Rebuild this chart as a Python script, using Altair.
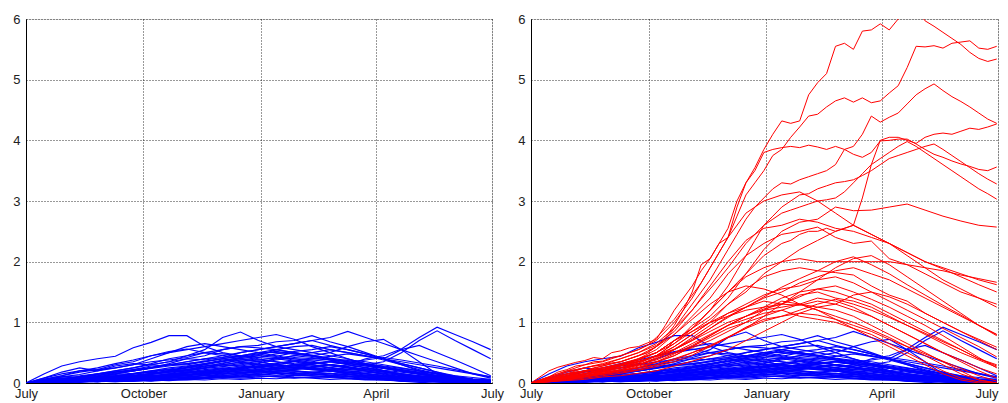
import altair as alt
import pandas as pd

# sample days (days since 1 July)
days = [0, 14, 28, 42, 56, 70, 84, 98, 112, 126, 140, 154, 168, 182,
        196, 210, 224, 238, 252, 266, 280, 294, 308, 322, 336, 350, 364]
days_weekly = [0, 7, 14, 21, 28, 35, 42, 49, 56, 63, 70, 77, 84, 91, 98, 105,
               112, 119, 126, 133, 140, 147, 154, 161, 168, 175, 182, 189, 196,
               203, 210, 217, 224, 231, 238, 245, 252, 259, 266, 273, 280, 287,
               294, 301, 308, 315, 322, 329, 336, 343, 350, 357, 364]

tick_days = [0, 92, 184, 274, 365]
tick_labels = ["July", "October", "January", "April", "July"]
y_ticks = [0, 1, 2, 3, 4, 5, 6]

blue_series = [
    [0,0.15,0.28,0.35,0.4,0.44,0.58,0.67,0.78,0.78,0.6,0.5,0.45,0.4,0.35,0.3,0.25,0.2,0.15,0.1,0.08,0.05,0.03,0.02,0,0,0],
    [0,0.02,0.05,0.1,0.15,0.2,0.25,0.32,0.4,0.45,0.55,0.75,0.84,0.7,0.6,0.55,0.5,0.45,0.4,0.32,0.25,0.2,0.15,0.1,0.05,0.03,0.02],
    [0,0.03,0.06,0.1,0.12,0.18,0.22,0.28,0.3,0.35,0.4,0.45,0.5,0.55,0.6,0.65,0.7,0.75,0.85,0.75,0.65,0.55,0.45,0.35,0.25,0.15,0.08],
    [0,0.02,0.04,0.08,0.1,0.15,0.2,0.25,0.3,0.3,0.35,0.4,0.35,0.3,0.3,0.35,0.3,0.25,0.3,0.4,0.45,0.56,0.75,0.92,0.8,0.68,0.55],
    [0,0.01,0.03,0.05,0.08,0.1,0.12,0.15,0.2,0.22,0.25,0.3,0.28,0.25,0.3,0.28,0.25,0.22,0.25,0.3,0.35,0.5,0.7,0.86,0.7,0.55,0.4],
    [0,0.04,0.08,0.1,0.14,0.18,0.22,0.26,0.3,0.35,0.4,0.42,0.45,0.5,0.5,0.48,0.45,0.5,0.6,0.68,0.72,0.55,0.35,0.15,0.05,0.02,0],
    [0,0.05,0.1,0.14,0.2,0.25,0.3,0.4,0.5,0.55,0.6,0.65,0.7,0.75,0.8,0.72,0.6,0.5,0.4,0.3,0.2,0.12,0.05,0.02,0,0,0],
    [0,0.03,0.05,0.1,0.12,0.15,0.2,0.25,0.32,0.4,0.45,0.55,0.6,0.62,0.68,0.7,0.78,0.68,0.6,0.5,0.4,0.3,0.2,0.1,0.04,0.01,0],
    [0,0.06,0.12,0.18,0.22,0.3,0.35,0.45,0.5,0.6,0.65,0.6,0.55,0.5,0.45,0.4,0.36,0.3,0.25,0.2,0.14,0.08,0.04,0.02,0,0,0],
    [0,0.02,0.03,0.05,0.06,0.1,0.12,0.15,0.2,0.25,0.3,0.35,0.4,0.45,0.55,0.6,0.62,0.55,0.5,0.45,0.4,0.55,0.62,0.5,0.38,0.25,0.12],
    [0,0.04,0.07,0.1,0.15,0.18,0.2,0.25,0.3,0.32,0.35,0.4,0.45,0.42,0.4,0.45,0.5,0.55,0.5,0.45,0.38,0.3,0.22,0.15,0.08,0.03,0],
    [0,0.08,0.15,0.2,0.22,0.25,0.3,0.35,0.38,0.42,0.5,0.55,0.6,0.58,0.55,0.5,0.45,0.4,0.35,0.3,0.25,0.2,0.15,0.1,0.05,0.02,0],
    [0,0.02,0.05,0.06,0.08,0.1,0.12,0.14,0.18,0.22,0.28,0.32,0.38,0.42,0.48,0.52,0.55,0.6,0.55,0.48,0.4,0.32,0.25,0.18,0.1,0.05,0.02],
    [0,0.05,0.1,0.12,0.15,0.2,0.25,0.3,0.35,0.45,0.5,0.48,0.45,0.5,0.55,0.5,0.45,0.38,0.3,0.25,0.2,0.15,0.1,0.06,0.03,0.01,0],
    [0,0.03,0.04,0.08,0.1,0.12,0.15,0.2,0.25,0.28,0.32,0.38,0.42,0.45,0.42,0.4,0.38,0.35,0.32,0.3,0.25,0.22,0.18,0.15,0.1,0.05,0.02],
    [0,0.02,0.04,0.05,0.08,0.1,0.12,0.15,0.18,0.2,0.25,0.3,0.35,0.38,0.35,0.32,0.3,0.28,0.25,0.2,0.16,0.12,0.08,0.05,0.03,0.02,0],
    [0,0.05,0.08,0.06,0.1,0.12,0.1,0.15,0.2,0.25,0.3,0.28,0.32,0.35,0.3,0.28,0.3,0.25,0.2,0.18,0.15,0.1,0.08,0.05,0.04,0.02,0.01],
    [0,0.01,0.02,0.04,0.05,0.06,0.08,0.1,0.14,0.18,0.2,0.24,0.28,0.32,0.38,0.42,0.4,0.38,0.35,0.3,0.25,0.2,0.15,0.12,0.08,0.05,0.03],
    [0,0.03,0.06,0.08,0.1,0.14,0.16,0.2,0.22,0.25,0.28,0.3,0.34,0.3,0.28,0.25,0.22,0.2,0.18,0.15,0.12,0.1,0.08,0.06,0.04,0.02,0],
    [0,0.02,0.01,0.03,0.05,0.04,0.06,0.08,0.1,0.12,0.15,0.18,0.2,0.25,0.28,0.3,0.32,0.35,0.38,0.35,0.3,0.25,0.2,0.15,0.1,0.06,0.04],
    [0,0.04,0.06,0.05,0.08,0.1,0.15,0.18,0.22,0.2,0.25,0.3,0.28,0.25,0.22,0.2,0.18,0.16,0.14,0.12,0.1,0.08,0.06,0.05,0.03,0.02,0.01],
    [0,0.01,0.03,0.04,0.03,0.05,0.06,0.08,0.1,0.12,0.14,0.16,0.2,0.22,0.25,0.24,0.22,0.2,0.22,0.25,0.2,0.15,0.12,0.08,0.06,0.04,0.03],
    [0,0.03,0.02,0.05,0.07,0.06,0.1,0.13,0.12,0.16,0.2,0.18,0.22,0.27,0.3,0.26,0.23,0.2,0.17,0.13,0.11,0.07,0.05,0.04,0.02,0.03,0.01],
    [0,0.02,0.05,0.03,0.06,0.08,0.07,0.1,0.12,0.15,0.13,0.18,0.2,0.18,0.22,0.2,0.17,0.15,0.12,0.1,0.08,0.06,0.05,0.03,0.02,0.01,0],
    [0,0.01,0.02,0.01,0.03,0.02,0.04,0.06,0.05,0.08,0.1,0.12,0.11,0.14,0.16,0.15,0.18,0.2,0.17,0.15,0.12,0.1,0.08,0.06,0.05,0.03,0.02],
    [0,0.03,0.05,0.08,0.06,0.09,0.12,0.1,0.14,0.18,0.22,0.25,0.22,0.2,0.18,0.2,0.16,0.13,0.1,0.08,0.06,0.04,0.03,0.02,0.01,0,0],
    [0,0.02,0.01,0.02,0.04,0.03,0.05,0.04,0.06,0.08,0.07,0.1,0.12,0.15,0.13,0.16,0.14,0.12,0.15,0.12,0.1,0.12,0.09,0.07,0.05,0.04,0.03],
    [0,0.04,0.02,0.05,0.08,0.1,0.08,0.12,0.15,0.13,0.17,0.2,0.24,0.28,0.25,0.22,0.26,0.23,0.2,0.16,0.12,0.1,0.07,0.05,0.03,0.02,0.01],
    [0,0.01,0.03,0.02,0.02,0.04,0.03,0.05,0.07,0.06,0.09,0.11,0.1,0.12,0.1,0.08,0.1,0.09,0.07,0.06,0.05,0.04,0.05,0.03,0.02,0.02,0.01],
    [0,0.02,0.04,0.06,0.05,0.07,0.09,0.12,0.1,0.13,0.16,0.19,0.22,0.2,0.23,0.26,0.24,0.21,0.18,0.15,0.13,0.1,0.08,0.07,0.05,0.04,0.02],
    [0,0.03,0.02,0.04,0.06,0.05,0.08,0.07,0.1,0.09,0.12,0.14,0.16,0.19,0.17,0.14,0.12,0.1,0.08,0.06,0.05,0.03,0.04,0.02,0.01,0.01,0],
    [0,0.01,0.01,0.03,0.02,0.04,0.05,0.04,0.06,0.05,0.07,0.09,0.08,0.1,0.12,0.1,0.09,0.11,0.08,0.07,0.06,0.08,0.06,0.05,0.04,0.03,0.02],
    [0,0.02,0.03,0.05,0.04,0.06,0.08,0.11,0.14,0.17,0.2,0.23,0.26,0.3,0.33,0.36,0.33,0.3,0.27,0.23,0.19,0.15,0.12,0.09,0.06,0.04,0.02],
    [0,0.05,0.03,0.06,0.09,0.12,0.15,0.18,0.16,0.2,0.24,0.27,0.3,0.33,0.4,0.45,0.42,0.38,0.33,0.28,0.24,0.2,0.16,0.12,0.08,0.05,0.03],
    [0,0.01,0.02,0.02,0.03,0.05,0.04,0.06,0.08,0.1,0.12,0.15,0.17,0.2,0.24,0.28,0.31,0.35,0.32,0.28,0.24,0.2,0.16,0.13,0.1,0.07,0.05],
    [0,0.02,0.04,0.03,0.05,0.07,0.06,0.09,0.11,0.14,0.18,0.21,0.25,0.28,0.26,0.3,0.34,0.3,0.26,0.22,0.18,0.15,0.11,0.08,0.05,0.03,0.02],
    [0,0.03,0.05,0.07,0.1,0.12,0.15,0.19,0.23,0.27,0.32,0.36,0.4,0.38,0.42,0.38,0.34,0.3,0.26,0.22,0.18,0.14,0.1,0.07,0.04,0.02,0.01],
    [0,0.01,0.02,0.04,0.03,0.05,0.07,0.06,0.08,0.1,0.13,0.12,0.15,0.18,0.2,0.22,0.26,0.3,0.28,0.32,0.28,0.24,0.2,0.16,0.12,0.09,0.06],
    [0,0.02,0.01,0.03,0.04,0.06,0.08,0.1,0.13,0.16,0.19,0.22,0.25,0.28,0.32,0.36,0.4,0.44,0.48,0.44,0.4,0.35,0.3,0.25,0.2,0.15,0.1],
    [0,0.04,0.07,0.1,0.13,0.16,0.2,0.24,0.28,0.32,0.36,0.4,0.44,0.48,0.52,0.48,0.44,0.4,0.35,0.3,0.25,0.2,0.15,0.1,0.06,0.03,0.01],
    [0,0.02,0.03,0.02,0.04,0.03,0.05,0.06,0.05,0.07,0.09,0.08,0.1,0.12,0.11,0.13,0.12,0.1,0.12,0.1,0.08,0.1,0.12,0.1,0.08,0.06,0.05],
    [0,0.01,0.02,0.03,0.02,0.03,0.04,0.03,0.05,0.06,0.05,0.07,0.06,0.08,0.07,0.09,0.08,0.06,0.07,0.05,0.06,0.04,0.05,0.04,0.03,0.04,0.02],
    [0,0.03,0.04,0.06,0.08,0.07,0.1,0.12,0.15,0.18,0.16,0.2,0.24,0.22,0.26,0.3,0.28,0.25,0.22,0.2,0.16,0.13,0.1,0.08,0.06,0.04,0.03],
    [0,0.02,0.05,0.07,0.06,0.08,0.1,0.09,0.12,0.14,0.17,0.15,0.18,0.16,0.19,0.17,0.15,0.13,0.11,0.09,0.07,0.08,0.06,0.05,0.04,0.02,0.01],
    [0,0.01,0.01,0.02,0.03,0.02,0.03,0.05,0.04,0.06,0.08,0.1,0.13,0.16,0.2,0.23,0.27,0.3,0.34,0.38,0.42,0.38,0.33,0.28,0.22,0.16,0.1],
    [0,0.08,0.18,0.25,0.2,0.28,0.32,0.3,0.35,0.4,0.38,0.42,0.5,0.55,0.6,0.65,0.7,0.62,0.55,0.48,0.4,0.32,0.25,0.18,0.12,0.06,0.02],
    [0,0.06,0.12,0.2,0.25,0.32,0.38,0.45,0.52,0.56,0.5,0.45,0.4,0.35,0.3,0.28,0.25,0.2,0.15,0.1,0.06,0.03,0.01,0,0,0,0],
    [0,0.04,0.03,0.07,0.05,0.09,0.13,0.16,0.2,0.26,0.31,0.36,0.42,0.47,0.44,0.5,0.46,0.41,0.37,0.32,0.27,0.22,0.17,0.12,0.08,0.05,0.02],
    [0,0.02,0.06,0.04,0.08,0.11,0.09,0.14,0.18,0.22,0.27,0.33,0.38,0.35,0.4,0.36,0.32,0.35,0.3,0.26,0.21,0.18,0.14,0.11,0.07,0.05,0.03],
    [0,0.03,0.01,0.04,0.02,0.05,0.07,0.05,0.08,0.1,0.09,0.12,0.15,0.13,0.17,0.15,0.13,0.16,0.14,0.12,0.1,0.11,0.09,0.07,0.06,0.05,0.04],
]

# prominent red lines, sampled weekly
red_weekly = [
    [0,0.1,0.2,0.26,0.3,0.34,0.37,0.42,0.4,0.5,0.53,0.58,0.6,0.66,0.72,0.95,1.2,1.4,1.6,1.85,2.05,2.3,2.55,3.0,3.3,3.55,3.85,4.1,4.32,4.28,4.32,4.75,4.95,5.1,5.55,5.6,5.5,5.8,5.82,5.92,5.82,6.0,6.1,6.15,5.97,5.88,5.78,5.68,5.58,5.45,5.35,5.3,5.34],
    [0,0.05,0.1,0.18,0.22,0.28,0.3,0.35,0.36,0.42,0.45,0.5,0.55,0.62,0.75,0.9,1.05,1.25,1.45,1.65,1.9,2.15,2.4,2.75,3.1,3.3,3.5,3.75,3.85,4.05,4.22,4.4,4.43,4.55,4.65,4.7,4.63,4.7,4.62,4.65,4.78,4.9,5.2,5.55,5.54,5.56,5.52,5.6,5.62,5.64,5.52,5.5,5.55],
    [0,0.03,0.05,0.1,0.15,0.2,0.25,0.28,0.3,0.33,0.35,0.4,0.45,0.5,0.6,0.72,0.9,1.1,1.3,1.5,1.7,1.95,2.2,2.45,2.7,2.9,3.05,3.2,3.3,3.28,3.35,3.4,3.45,3.5,3.6,3.85,3.9,4.1,4.4,4.3,4.38,4.45,4.6,4.75,4.85,4.93,4.82,4.72,4.64,4.55,4.45,4.35,4.28],
    [0,0.04,0.08,0.12,0.15,0.18,0.2,0.25,0.28,0.32,0.35,0.4,0.45,0.5,0.6,0.75,0.95,1.2,1.5,1.95,2.05,2.3,2.4,2.9,3.3,3.5,3.8,3.85,3.88,3.9,3.88,3.92,3.89,3.85,3.9,3.85,3.77,3.72,3.8,3.99,4.0,4.02,4.02,3.94,3.85,3.77,3.72,3.66,3.61,3.57,3.52,3.5,3.56],
    [0,0.02,0.05,0.08,0.1,0.12,0.15,0.2,0.2,0.24,0.25,0.3,0.35,0.4,0.45,0.55,0.7,0.8,0.95,1.05,1.2,1.35,1.5,1.65,1.8,1.95,2.1,2.2,2.3,2.35,2.45,2.5,2.5,2.55,2.5,2.55,2.6,3.05,3.6,4.0,4.05,4.05,4.0,3.95,4.05,4.1,4.12,4.1,4.15,4.2,4.18,4.22,4.27],
    [0,0.05,0.1,0.15,0.2,0.22,0.25,0.28,0.3,0.35,0.4,0.45,0.5,0.58,0.65,0.78,0.9,1.05,1.2,1.38,1.55,1.72,1.9,2.1,2.3,2.45,2.6,2.7,2.8,2.85,2.9,2.95,3.0,3.02,3.05,3.15,3.3,3.45,3.6,3.7,3.8,3.9,3.98,3.9,3.8,3.7,3.6,3.5,3.4,3.3,3.2,3.12,3.03],
    [0,0.02,0.05,0.08,0.12,0.15,0.2,0.22,0.25,0.28,0.3,0.35,0.4,0.45,0.5,0.6,0.7,0.8,0.9,1.05,1.2,1.4,1.6,1.85,2.1,2.35,2.6,2.75,2.9,3.0,3.1,3.12,3.2,3.25,3.3,3.32,3.35,3.42,3.5,3.6,3.7,3.75,3.8,3.85,3.9,3.94,3.85,3.75,3.65,3.55,3.45,3.36,3.28],
]

# remaining red lines, sampled every two weeks
red_biweekly = [
    [0,0.08,0.15,0.2,0.25,0.3,0.38,0.5,0.7,0.9,1.1,1.4,1.8,2.2,2.5,2.65,2.7,2.9,2.84,2.85,2.9,2.95,2.85,2.75,2.67,2.6,2.57],
    [0,0.05,0.1,0.18,0.25,0.32,0.4,0.55,0.8,1.1,1.4,1.8,2.1,2.3,2.45,2.5,2.57,2.4,2.3,2.34,2.05,1.95,1.9,1.85,1.78,1.72,1.66],
    [0,0.03,0.08,0.12,0.18,0.25,0.32,0.45,0.65,0.9,1.2,1.5,1.75,1.9,2.0,2.05,2.0,2.0,2.0,2.0,2.0,1.95,1.8,1.65,1.5,1.4,1.3],
    [0,0.04,0.1,0.15,0.2,0.28,0.35,0.45,0.6,0.8,1.0,1.3,1.55,1.75,1.85,1.9,1.85,1.82,1.78,1.6,1.45,1.35,1.15,1.0,0.85,0.72,0.59],
    [0,0.1,0.2,0.3,0.35,0.45,0.55,0.7,1.0,1.4,1.9,2.4,2.8,3.0,3.1,3.15,3.0,2.8,2.6,2.45,2.3,2.15,2.0,1.9,1.8,1.7,1.62],
    [0,0.06,0.12,0.2,0.22,0.3,0.38,0.5,0.65,0.85,1.05,1.3,1.5,1.8,2.0,2.2,2.35,2.5,2.6,2.45,2.3,2.1,1.9,1.7,1.55,1.4,1.25],
    [0,0.03,0.08,0.12,0.15,0.22,0.3,0.4,0.55,0.75,0.95,1.15,1.3,1.45,1.55,1.6,1.7,1.75,1.65,1.5,1.35,1.2,1.05,0.9,0.75,0.6,0.43],
    [0,0.05,0.1,0.15,0.2,0.25,0.3,0.42,0.6,0.8,1.0,1.15,1.25,1.35,1.3,1.45,1.5,1.4,1.35,1.25,1.1,0.95,0.8,0.65,0.5,0.38,0.26],
    [0,0.04,0.1,0.14,0.22,0.28,0.4,0.5,0.7,0.85,1.0,1.1,1.2,1.25,1.3,1.28,1.35,1.3,1.2,1.1,0.95,0.8,0.65,0.5,0.38,0.25,0.15],
    [0,0.05,0.08,0.12,0.18,0.25,0.33,0.45,0.55,0.7,0.85,1.0,1.1,1.2,1.25,1.3,1.25,1.2,1.1,0.95,0.8,0.65,0.5,0.35,0.2,0.05,0],
    [0,0.04,0.1,0.15,0.18,0.22,0.3,0.38,0.5,0.65,0.8,0.95,1.05,1.15,1.2,1.1,1.05,1.0,0.9,0.8,0.65,0.5,0.35,0.2,0.08,0.02,0],
    [0,0.02,0.06,0.1,0.15,0.2,0.25,0.35,0.45,0.6,0.75,0.9,1.0,1.1,1.2,1.3,1.4,1.35,1.25,1.1,0.95,0.8,0.65,0.5,0.35,0.2,0.08],
    [0,0.03,0.05,0.1,0.15,0.2,0.25,0.3,0.4,0.5,0.6,0.75,0.9,1.1,1.3,1.5,1.7,1.9,2.05,2.1,1.95,1.75,1.55,1.35,1.15,0.95,0.8],
    [0,0.06,0.12,0.2,0.28,0.35,0.45,0.6,0.8,1.05,1.3,1.5,1.6,1.55,1.45,1.3,1.2,1.05,0.9,0.75,0.6,0.45,0.3,0.15,0.05,0,0],
    [0,0.05,0.08,0.12,0.16,0.22,0.3,0.4,0.55,0.7,0.9,1.1,1.25,1.4,1.5,1.65,1.75,1.85,1.9,1.8,1.7,1.55,1.4,1.25,1.1,0.95,0.8],
    [0,0.08,0.18,0.25,0.32,0.4,0.5,0.62,0.85,1.2,1.6,2.0,2.35,2.55,2.6,2.7,2.65,2.55,2.5,2.4,2.3,2.15,2.0,1.88,1.75,1.62,1.5],
    [0,0.04,0.1,0.12,0.18,0.2,0.28,0.35,0.48,0.62,0.78,0.95,1.1,1.25,1.4,1.5,1.55,1.5,1.4,1.3,1.15,1.0,0.85,0.7,0.55,0.4,0.3],
    [0,0.06,0.14,0.2,0.24,0.3,0.36,0.44,0.5,0.58,0.7,0.85,1.0,1.2,1.35,1.3,1.2,1.1,1.0,0.88,0.75,0.6,0.45,0.3,0.15,0.05,0],
    [0,0.02,0.04,0.06,0.1,0.12,0.16,0.2,0.28,0.36,0.45,0.55,0.7,0.85,1.0,1.15,1.25,1.3,1.45,1.5,1.42,1.3,1.15,1.0,0.85,0.7,0.55],
    [0,0.04,0.08,0.12,0.16,0.2,0.26,0.34,0.45,0.6,0.78,0.95,1.1,1.22,1.3,1.42,1.55,1.6,1.5,1.38,1.25,1.1,0.95,0.78,0.6,0.42,0.25],
    [0,0.03,0.07,0.1,0.14,0.18,0.22,0.3,0.38,0.5,0.62,0.76,0.9,1.02,1.1,1.15,1.12,1.05,0.95,0.85,0.72,0.6,0.48,0.36,0.24,0.12,0.03],
    [0,0.05,0.1,0.16,0.22,0.28,0.35,0.44,0.56,0.72,0.9,1.08,1.25,1.42,1.58,1.72,1.85,2.0,2.08,1.95,1.8,1.62,1.45,1.28,1.12,0.95,0.78],
    [0,0.02,0.05,0.08,0.12,0.16,0.21,0.27,0.35,0.46,0.6,0.75,0.92,1.05,1.1,1.2,1.3,1.38,1.3,1.2,1.08,0.95,0.82,0.68,0.55,0.4,0.28],
]


def to_frame(groups, prefix):
    rows = []
    k = 0
    for xs, series_list in groups:
        for vals in series_list:
            assert len(vals) == len(xs), (prefix, k, len(vals))
            for d, v in zip(xs, vals):
                rows.append({"day": d, "value": v, "id": f"{prefix}{k}"})
            k += 1
    return pd.DataFrame(rows)


blue_df = to_frame([(days, blue_series)], "b")
red_df = to_frame([(days_weekly, red_weekly), (days, red_biweekly)], "r")

label_expr = " : ".join(
    f"datum.value == {d} ? '{t}'" for d, t in zip(tick_days, tick_labels)
) + " : ''"

FONT = "Liberation Sans"


def x_enc(last_right):
    if last_right:
        align = {"condition": {"test": f"datum.value >= {tick_days[-1]}", "value": "right"},
                 "value": "center"}
    else:
        align = "center"
    return alt.X(
        "day:Q",
        scale=alt.Scale(domain=[0, 365], nice=False, zero=False),
        axis=alt.Axis(
            values=tick_days, labelExpr=label_expr, title=None, grid=True,
            gridDash=[1, 2], gridColor="#000000", gridOpacity=0.8, tickSize=0,
            labelPadding=4, labelFont=FONT, labelFontSize=13, labelColor="#222222",
            labelAngle=0, labelAlign=align, labelBaseline="top",
            labelOverlap=False, domainColor="#000000", minExtent=17, maxExtent=17,
        ),
    )


y_enc = alt.Y(
    "value:Q",
    scale=alt.Scale(domain=[0, 6], nice=False),
    axis=alt.Axis(
        values=y_ticks, title=None, grid=True, gridDash=[1, 2],
        gridColor="#000000", gridOpacity=0.8, tickSize=0, labelPadding=6,
        labelFont=FONT, labelFontSize=13, labelColor="#222222",
        domainColor="#000000", minExtent=17, maxExtent=17, format="d",
    ),
)


def lines(df, color, last_right, width=1.0):
    return alt.Chart(df).mark_line(strokeWidth=width, clip=True, color=color).encode(
        x=x_enc(last_right), y=y_enc, detail="id:N"
    )


left = lines(blue_df, "#0000ff", False, 1.15).properties(width=466, height=364)
right = alt.layer(
    lines(blue_df, "#0000ff", True, 1.15), lines(red_df, "#ff0000", True)
).properties(width=467, height=364)

chart = (
    alt.hconcat(left, right, spacing=39, bounds="flush")
    .properties(padding={"left": 0, "top": 4, "right": 0, "bottom": 0})
    .configure_view(stroke=None)
    .configure(background="white")
)

chart.save("out.html", embed_options={"renderer": "svg", "actions": False})
